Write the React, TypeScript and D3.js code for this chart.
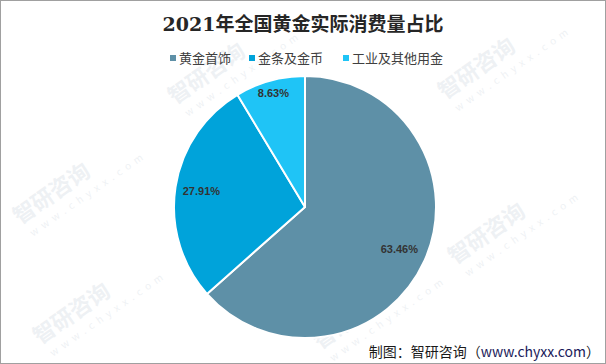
import React from "react";
import * as d3 from "d3";

const categories = ["黄金首饰", "金条及金币", "工业及其他用金"];
const shares = [63.46, 27.91, 8.63];
const colors = ["#5e90a7", "#00a3da", "#1fc4f6"];
const labelRadius = [0.79, 0.8, 0.9];

const W = 606;
const H = 364;
const cx = 305;
const cy = 207;
const R = 131;

// faint brand watermarks, kept inside the frame
const watermarks = [
  [175, 105], [445, 100], [245, 235], [20, 225], [455, 265], [40, 345], [320, 350],
];

const App = () => {
  const pie = d3.pie<number>().sort(null).value((d) => d);
  const arcs = pie(shares);
  const arc = d3.arc<d3.PieArcDatum<number>>().innerRadius(0).outerRadius(R);

  return (
    <svg
      width={W}
      height={H}
      style={{ position: "absolute", left: 0, top: 0 }}
      fontFamily="'Noto Sans CJK SC', 'Noto Sans', sans-serif"
    >
      <rect x={0.5} y={0.5} width={W - 1} height={H - 1} fill="#fff" stroke="#a0a0a0" />

      {watermarks.map(([x, y], i) => (
        <g key={i} transform={`translate(${x},${y}) rotate(-35)`} opacity={0.09} fill="#4a6a8a">
          <text x={0} y={0} fontSize={22} fontWeight="bold">智研咨询</text>
          <text x={4} y={17} fontSize={10} letterSpacing={5}>www.chyxx.com</text>
        </g>
      ))}

      <text
        x={W / 2}
        y={31}
        textAnchor="middle"
        fontSize={19}
        fontWeight="bold"
        fill="#262626"
        fontFamily="'DejaVu Serif', 'Noto Sans CJK SC', serif"
      >
        2021年全国黄金实际消费量占比
      </text>

      {/* legend */}
      {categories.map((c, i) => {
        const x = [170, 249, 343][i];
        return (
          <g key={c}>
            <rect x={x} y={55} width={6} height={6} fill={colors[i]} />
            <text x={x + 9} y={63} fontSize={13} fill="#404040">{c}</text>
          </g>
        );
      })}

      <g transform={`translate(${cx},${cy})`}>
        {arcs.map((a, i) => (
          <path key={i} d={arc(a) || ""} fill={colors[i]} stroke="#fff" strokeWidth={2} strokeLinejoin="round" />
        ))}
        {arcs.map((a, i) => {
          const mid = (a.startAngle + a.endAngle) / 2;
          const r = R * labelRadius[i];
          return (
            <text
              key={"l" + i}
              x={Math.sin(mid) * r}
              y={-Math.cos(mid) * r}
              textAnchor="middle"
              dominantBaseline="central"
              fontSize={11}
              fontWeight="bold"
              fill="#333"
              fontFamily="'Liberation Sans', sans-serif"
            >
              {shares[i].toFixed(2)}%
            </text>
          );
        })}
      </g>

      <text x={600} y={357} textAnchor="end" fontSize={14} fill="#1a1a1a">
        制图：智研咨询（<tspan fill="#1a1a5a">www.chyxx.com</tspan>）
      </text>
    </svg>
  );
};

export default App;
